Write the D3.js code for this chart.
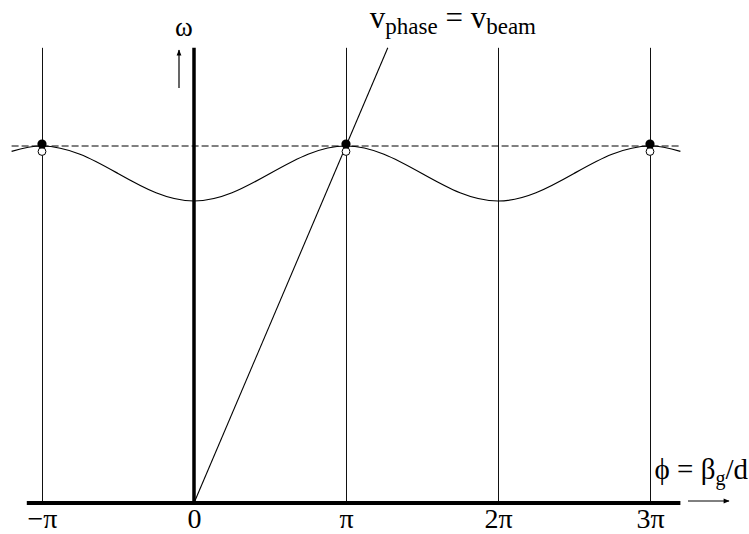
<!DOCTYPE html>
<html>
<head>
<meta charset="utf-8">
<script src="https://cdn.jsdelivr.net/npm/d3@7/dist/d3.min.js"></script>
<style>
  html, body { margin: 0; padding: 0; background: #fff; }
  svg { display: block; }
  text { font-family: "Liberation Serif", "Times New Roman", serif; fill: #000; }
</style>
</head>
<body>
<svg id="chart" width="749" height="534"></svg>
<script>
// Phase (in units of pi) and normalised frequency of the passband curve
const phasePoints = [-1.2, -1, -0.75, -0.5, -0.25, 0, 0.25, 0.5, 0.75, 1, 1.25, 1.5, 1.75, 2, 2.25, 2.5, 2.75, 3, 3.2];
const omegaPoints = [0.985, 1.0, 0.977, 0.923, 0.869, 0.846, 0.869, 0.923, 0.977, 1.0, 0.977, 0.923, 0.869, 0.846, 0.869, 0.923, 0.977, 1.0, 0.985];

// Tick positions along the phase axis and their labels
const tickPhases = [-1, 0, 1, 2, 3];
const tickLabels = ["\u2212\u03c0", "0", "\u03c0", "2\u03c0", "3\u03c0"];

// Phases where the beam line meets the top of the passband
const syncPhases = [-1, 1, 3];
const syncOmega = 1.0;

// Beam line: omega proportional to phase, passing through (pi, top of band)
const beamLine = [[0, 0], [1.275, 1.275]];

// Extents of the axes (phase / omega units)
const phaseAxisExtent = [-1.1, 3.2];
const omegaTop = 1.275;
const dashedExtent = [-1.2, 3.2];

const svg = d3.select("#chart");

const x = d3.scaleLinear().domain([-1, 3]).range([42, 650]);
const y = d3.scaleLinear().domain([0, 1]).range([503, 146]);

// Thin vertical guides at each multiple of pi (except the omega axis)
svg.append("g").selectAll("line")
  .data(tickPhases.filter(d => d !== 0))
  .join("line")
  .attr("x1", d => x(d) + 0.5).attr("x2", d => x(d) + 0.5)
  .attr("y1", y(omegaTop)).attr("y2", y(0))
  .attr("stroke", "#111").attr("stroke-width", 1);

// Beam line through the origin
svg.append("line")
  .attr("x1", x(beamLine[0][0])).attr("y1", y(beamLine[0][1]))
  .attr("x2", x(beamLine[1][0])).attr("y2", y(beamLine[1][1]))
  .attr("stroke", "#000").attr("stroke-width", 1.1);

// Dashed level at the synchronous frequency
svg.append("line")
  .attr("x1", x(dashedExtent[0])).attr("x2", x(dashedExtent[1]))
  .attr("y1", y(syncOmega)).attr("y2", y(syncOmega))
  .attr("stroke", "#000").attr("stroke-width", 1)
  .attr("stroke-dasharray", "7,3");

// Dispersion curve
const curve = d3.line()
  .x(d => x(d[0])).y(d => y(d[1]))
  .curve(d3.curveNatural);
svg.append("path")
  .datum(phasePoints.map((p, i) => [p, omegaPoints[i]]))
  .attr("d", curve)
  .attr("fill", "none").attr("stroke", "#000").attr("stroke-width", 1.2);

// Omega axis (thick)
svg.append("line")
  .attr("x1", x(0)).attr("x2", x(0))
  .attr("y1", y(omegaTop)).attr("y2", y(0))
  .attr("stroke", "#000").attr("stroke-width", 3.5);

// Phase axis (thick) with tick labels
svg.append("line")
  .attr("x1", x(phaseAxisExtent[0])).attr("x2", x(phaseAxisExtent[1]))
  .attr("y1", y(0)).attr("y2", y(0))
  .attr("stroke", "#000").attr("stroke-width", 4);

const axis = d3.axisBottom(x)
  .tickValues(tickPhases)
  .tickFormat((d, i) => tickLabels[i])
  .tickSize(0).tickPadding(0);
const axisG = svg.append("g").attr("transform", `translate(0,${y(0)})`).call(axis);
axisG.select(".domain").remove();
axisG.selectAll("text")
  .attr("dy", null).attr("y", 25)
  .style("font-family", "'Liberation Serif', serif")
  .style("font-size", "28px").attr("fill", "#000");

// Synchronous points: open below, filled above
svg.append("g").selectAll("circle")
  .data(syncPhases)
  .join("circle")
  .attr("cx", d => x(d)).attr("cy", y(syncOmega) + 5.5)
  .attr("r", 3.9)
  .attr("fill", "#fff").attr("stroke", "#000").attr("stroke-width", 1);
svg.append("g").selectAll("circle")
  .data(syncPhases)
  .join("circle")
  .attr("cx", d => x(d)).attr("cy", y(syncOmega) - 2)
  .attr("r", 4.6)
  .attr("fill", "#000");

// Arrow markers
const defs = svg.append("defs");
defs.append("marker")
  .attr("id", "arrow")
  .attr("viewBox", "0 0 10 10")
  .attr("refX", 9).attr("refY", 5)
  .attr("markerWidth", 8).attr("markerHeight", 6)
  .attr("markerUnits", "userSpaceOnUse")
  .attr("orient", "auto")
  .append("path").attr("d", "M0,1 L10,5 L0,9 Z").attr("fill", "#000");

// Omega label and upward arrow
svg.append("text")
  .attr("x", 184).attr("y", 36)
  .attr("text-anchor", "middle")
  .style("font-size", "27px")
  .text("\u03c9");
svg.append("line")
  .attr("x1", 179).attr("x2", 179).attr("y1", 88).attr("y2", 50)
  .attr("stroke", "#000").attr("stroke-width", 1.2)
  .attr("marker-end", "url(#arrow)");

// Phase label and rightward arrow
const phLabel = svg.append("text")
  .attr("x", 748).attr("y", 479)
  .attr("text-anchor", "end")
  .style("font-size", "29px");
phLabel.append("tspan").text("\u03d5 = \u03b2");
phLabel.append("tspan").attr("dy", 6).style("font-size", "20px").text("g");
phLabel.append("tspan").attr("dy", -6).text("/d");
svg.append("line")
  .attr("x1", 688).attr("x2", 729).attr("y1", 501).attr("y2", 501)
  .attr("stroke", "#000").attr("stroke-width", 1)
  .attr("marker-end", "url(#arrow)");

// Phase-velocity label
const vLabel = svg.append("text")
  .attr("x", 536).attr("y", 28)
  .attr("text-anchor", "end")
  .style("font-size", "31px");
vLabel.append("tspan").text("v");
vLabel.append("tspan").attr("dy", 6).style("font-size", "23px").text("phase");
vLabel.append("tspan").attr("dy", -6).text(" = v");
vLabel.append("tspan").attr("dy", 6).style("font-size", "23px").text("beam");
</script>
</body>
</html>
